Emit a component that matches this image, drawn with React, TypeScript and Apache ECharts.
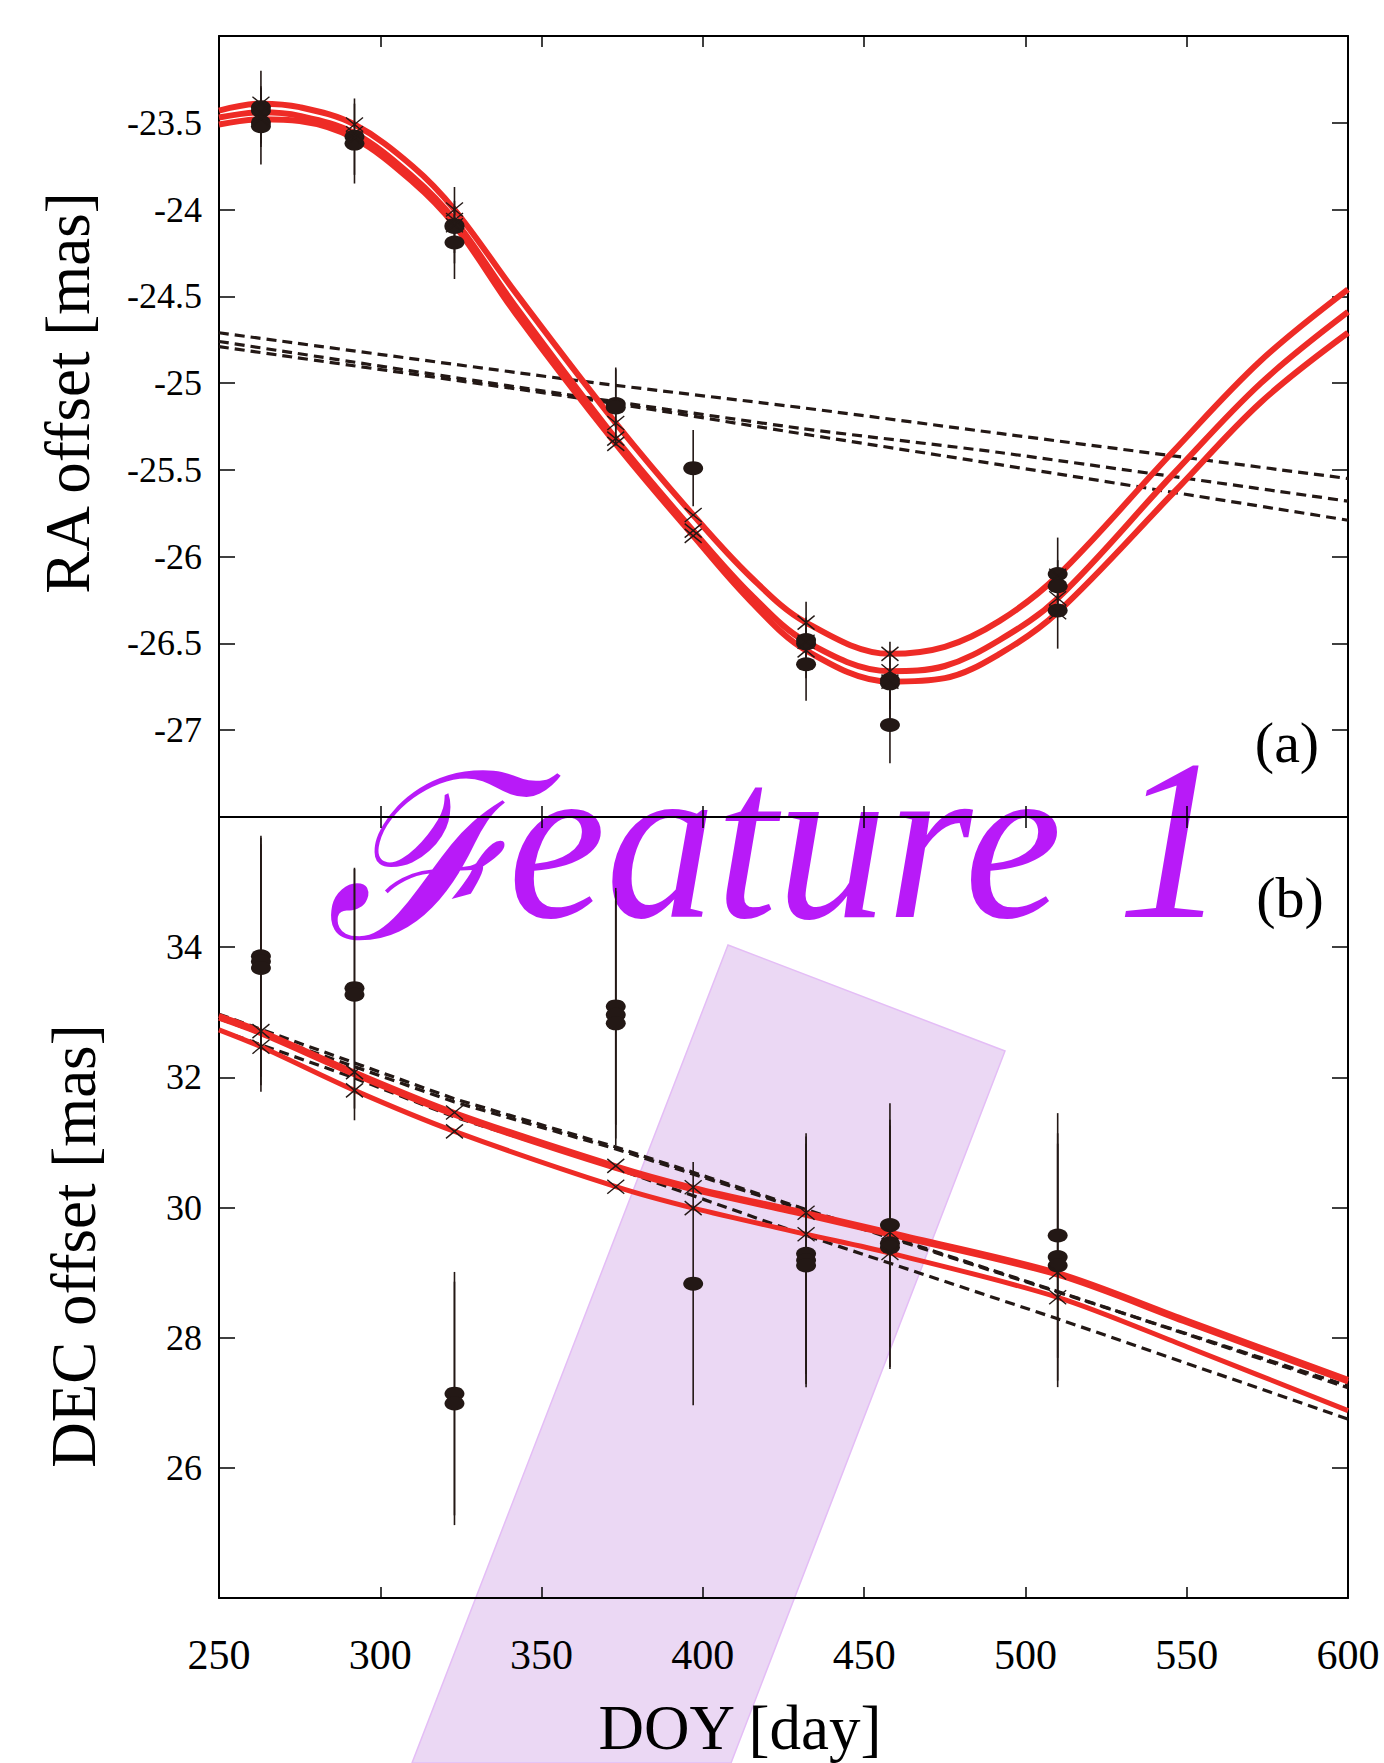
import React, { useEffect, useRef } from "react";
import * as echarts from "echarts";

// ---------- axes ----------
const xMin = 250;
const xMax = 600;
const xStep = 50;
const raMin = -27.5;
const raMax = -23.0;
const raStep = 0.5;
const decMin = 24;
const decMax = 36;
const decStep = 2;

// ---------- panel (a): RA ----------
const raObsDay = [263, 263, 263, 263, 292, 292, 323, 323, 323, 373, 373, 397, 432, 432, 432, 458, 458, 458, 510, 510, 510];
const raObs = [-23.41, -23.43, -23.5, -23.52, -23.58, -23.62, -24.09, -24.1, -24.19, -25.12, -25.14, -25.49, -26.48, -26.5, -26.62, -26.71, -26.73, -26.97, -26.1, -26.17, -26.31];
const raErr = [0.21, 0.14, 0.14, 0.22, 0.22, 0.23, 0.22, 0.15, 0.21, 0.21, 0.22, 0.22, 0.22, 0.15, 0.21, 0.22, 0.15, 0.22, 0.21, 0.15, 0.22];

const raCurveDay = [250, 263, 275, 292, 310, 323, 342, 373, 397, 415, 432, 458, 475, 492, 510, 546, 573, 600];
const raFitUpper = [-23.43, -23.39, -23.41, -23.51, -23.75, -24.0, -24.48, -25.23, -25.76, -26.12, -26.38, -26.56, -26.52, -26.37, -26.11, -25.39, -24.87, -24.46];
const raFitMid = [-23.47, -23.44, -23.46, -23.56, -23.81, -24.06, -24.56, -25.32, -25.85, -26.22, -26.49, -26.66, -26.63, -26.48, -26.24, -25.52, -25.0, -24.59];
const raFitLower = [-23.51, -23.48, -23.49, -23.59, -23.84, -24.09, -24.6, -25.35, -25.88, -26.26, -26.54, -26.72, -26.7, -26.56, -26.32, -25.63, -25.11, -24.71];

const raPmDay = [250, 363, 430, 492, 600];
const raPm1 = [-24.71, -24.99, -25.14, -25.29, -25.55];
const raPm2 = [-24.76, -25.08, -25.26, -25.4, -25.68];
const raPm3 = [-24.79, -25.09, -25.29, -25.47, -25.79];

// ---------- panel (b): DEC ----------
const decObsDay = [263, 263, 263, 292, 292, 323, 323, 373, 373, 373, 397, 432, 432, 432, 458, 458, 458, 510, 510, 510];
const decObs = [33.86, 33.78, 33.68, 33.37, 33.27, 27.14, 26.99, 33.09, 32.96, 32.83, 28.83, 29.29, 29.19, 29.11, 29.73, 29.45, 29.39, 29.57, 29.24, 29.11];
const decErr = [1.85, 1.9, 1.9, 1.85, 1.93, 1.87, 1.87, 1.82, 1.9, 1.88, 1.87, 1.85, 1.9, 1.87, 1.87, 1.9, 1.87, 1.88, 1.9, 1.87];

const decCurveDay = [250, 263, 292, 323, 373, 397, 432, 458, 510, 550, 600];
const decFitUpper = [32.95, 32.71, 32.08, 31.46, 30.64, 30.31, 29.92, 29.62, 29.0, 28.27, 27.36];
const decFitMid = [32.91, 32.67, 32.04, 31.42, 30.6, 30.27, 29.88, 29.58, 28.96, 28.23, 27.32];
const decFitLower = [32.73, 32.47, 31.8, 31.17, 30.32, 29.99, 29.59, 29.3, 28.62, 27.86, 26.88];

const decPmDayA = [250, 323, 373, 432, 510, 558, 600];
const decPmA = [32.97, 31.67, 30.93, 29.97, 28.71, 27.92, 27.23];
const decPmDayB = [250, 323, 373, 432, 510, 600];
const decPmB = [32.9, 31.62, 30.9, 29.95, 28.7, 27.26];
const decPmDayC = [250, 292, 323, 373, 432, 510, 600];
const decPmC = [32.73, 31.99, 31.39, 30.6, 29.57, 28.29, 26.75];

const epochs = [263, 292, 323, 373, 397, 432, 458, 510];

// ---------- styles ----------
const FONT = '"Liberation Serif", "Times New Roman", serif';
const RED = "#ee2b26";
const INK = "#231815";

const zip = (xs: number[], ys: number[]) => xs.map((x, i) => [x, ys[i]]);
const zip3 = (xs: number[], ys: number[], es: number[]) => xs.map((x, i) => [x, ys[i], es[i]]);
const atEpochs = (days: number[], vals: number[]) =>
  epochs.filter((d) => days.indexOf(d) >= 0).map((d) => [d, vals[days.indexOf(d)]]);

function errRender(params: any, api: any) {
  const x = api.value(0);
  const v = api.value(1);
  const e = api.value(2);
  const lo = api.coord([x, v - e]);
  const hi = api.coord([x, v + e]);
  return {
    type: "line",
    shape: { x1: lo[0], y1: lo[1], x2: hi[0], y2: hi[1] },
    style: { stroke: INK, lineWidth: 1.6 },
  };
}

function crossRender(params: any, api: any) {
  const p = api.coord([api.value(0), api.value(1)]);
  const sx = 8.5;
  const sy = 7;
  const st = { stroke: INK, lineWidth: 1.4 };
  return {
    type: "group",
    children: [
      { type: "line", shape: { x1: p[0] - sx, y1: p[1] - sy, x2: p[0] + sx, y2: p[1] + sy }, style: st },
      { type: "line", shape: { x1: p[0] - sx, y1: p[1] + sy, x2: p[0] + sx, y2: p[1] - sy }, style: st },
    ],
  };
}

function xAxisDef(grid: number, position: string, labels: boolean) {
  return {
    type: "value",
    gridIndex: grid,
    position,
    min: xMin,
    max: xMax,
    interval: xStep,
    axisLine: { show: true, onZero: false, lineStyle: { color: "#000", width: 2 } },
    axisTick: { show: true, inside: true, length: 11, lineStyle: { color: "#000", width: 1.5 } },
    axisLabel: { show: labels, margin: 36, color: "#000", fontFamily: FONT, fontSize: 42 },
    splitLine: { show: false },
  };
}

function yAxisDef(grid: number, position: string, labels: boolean, min: number, max: number, step: number) {
  return {
    type: "value",
    gridIndex: grid,
    position,
    min,
    max,
    interval: step,
    axisLine: { show: true, onZero: false, lineStyle: { color: "#000", width: 2 } },
    axisTick: { show: true, inside: true, length: 16, lineStyle: { color: "#000", width: 1.5 } },
    axisLabel: {
      show: labels,
      margin: 17,
      color: "#000",
      fontFamily: FONT,
      fontSize: 36,
      showMinLabel: false,
      showMaxLabel: false,
    },
    splitLine: { show: false },
  };
}

function lineSeries(xi: number, yi: number, data: number[][], color: string, width: number, dashed: boolean, smooth: number, z: number) {
  return {
    type: "line",
    xAxisIndex: xi,
    yAxisIndex: yi,
    data,
    showSymbol: false,
    symbol: "none",
    smooth,
    silent: true,
    z,
    lineStyle: { color, width, type: dashed ? [10, 6] : "solid", cap: "butt" },
  };
}

export default function App() {
  const ref = useRef<HTMLDivElement>(null);

  useEffect(() => {
    if (!ref.current) return;
    const chart = echarts.init(ref.current, null, { renderer: "svg" });

    const option: any = {
      animation: false,
      backgroundColor: "#ffffff",
      grid: [
        { left: 219, top: 36, width: 1129, height: 781 },
        { left: 219, top: 817, width: 1129, height: 781 },
      ],
      xAxis: [
        xAxisDef(0, "bottom", false),
        xAxisDef(0, "top", false),
        xAxisDef(1, "bottom", true),
        xAxisDef(1, "top", false),
      ],
      yAxis: [
        yAxisDef(0, "left", true, raMin, raMax, raStep),
        yAxisDef(0, "right", false, raMin, raMax, raStep),
        yAxisDef(1, "left", true, decMin, decMax, decStep),
        yAxisDef(1, "right", false, decMin, decMax, decStep),
      ],
      graphic: [
        {
          type: "polygon",
          z: -10,
          silent: true,
          shape: { points: [[728, 945], [1005, 1051], [731, 1763], [412, 1763]] },
          style: { fill: "#ebd8f4", stroke: "#e4bdf6", lineWidth: 1.5 },
        },
        {
          type: "text",
          z: -5,
          silent: true,
          x: 420,
          y: 860,
          style: {
            text: "\u2131",
            fill: "#b81af8",
            font: `italic 230px ${FONT}`,
            align: "center",
            verticalAlign: "middle",
          },
        },
        {
          type: "text",
          z: -5,
          silent: true,
          x: 508,
          y: 840,
          scaleX: 0.965,
          style: {
            text: "eature 1",
            fill: "#b81af8",
            font: `italic 228px ${FONT}`,
            align: "left",
            verticalAlign: "middle",
          },
        },
        {
          type: "text",
          silent: true,
          x: 68,
          y: 393,
          rotation: Math.PI / 2,
          style: { text: "RA offset [mas]", fill: "#000", font: `63px ${FONT}`, align: "center", verticalAlign: "middle" },
        },
        {
          type: "text",
          silent: true,
          x: 74,
          y: 1246,
          rotation: Math.PI / 2,
          style: { text: "DEC offset [mas]", fill: "#000", font: `63px ${FONT}`, align: "center", verticalAlign: "middle" },
        },
        {
          type: "text",
          silent: true,
          x: 740,
          y: 1728,
          style: { text: "DOY [day]", fill: "#000", font: `63px ${FONT}`, align: "center", verticalAlign: "middle" },
        },
        {
          type: "text",
          silent: true,
          x: 1287,
          y: 742,
          style: { text: "(a)", fill: "#000", font: `58px ${FONT}`, align: "center", verticalAlign: "middle" },
        },
        {
          type: "text",
          silent: true,
          x: 1290,
          y: 897,
          style: { text: "(b)", fill: "#000", font: `58px ${FONT}`, align: "center", verticalAlign: "middle" },
        },
      ],
      series: [
        // panel a
        lineSeries(0, 0, zip(raPmDay, raPm1), INK, 3.2, true, 0.2, 3),
        lineSeries(0, 0, zip(raPmDay, raPm2), INK, 3.2, true, 0.2, 3),
        lineSeries(0, 0, zip(raPmDay, raPm3), INK, 3.2, true, 0.2, 3),
        lineSeries(0, 0, zip(raCurveDay, raFitUpper), RED, 6, false, 0.35, 4),
        lineSeries(0, 0, zip(raCurveDay, raFitMid), RED, 6, false, 0.35, 4),
        lineSeries(0, 0, zip(raCurveDay, raFitLower), RED, 6, false, 0.35, 4),
        {
          type: "custom",
          xAxisIndex: 0,
          yAxisIndex: 0,
          renderItem: errRender,
          data: zip3(raObsDay, raObs, raErr),
          encode: { x: 0, y: 1 },
          silent: true,
          z: 5,
        },
        {
          type: "scatter",
          xAxisIndex: 0,
          yAxisIndex: 0,
          data: zip(raObsDay, raObs),
          symbol: "circle",
          symbolSize: [20, 14],
          itemStyle: { color: INK, opacity: 1 },
          silent: true,
          z: 6,
        },
        {
          type: "custom",
          xAxisIndex: 0,
          yAxisIndex: 0,
          renderItem: crossRender,
          data: [
            ...atEpochs(raCurveDay, raFitUpper),
            ...atEpochs(raCurveDay, raFitMid),
            ...atEpochs(raCurveDay, raFitLower),
          ],
          encode: { x: 0, y: 1 },
          silent: true,
          z: 7,
        },
        // panel b
        lineSeries(2, 2, zip(decPmDayA, decPmA), INK, 3.2, true, 0, 3),
        lineSeries(2, 2, zip(decPmDayB, decPmB), INK, 3.2, true, 0, 3),
        lineSeries(2, 2, zip(decPmDayC, decPmC), INK, 3.2, true, 0, 3),
        lineSeries(2, 2, zip(decCurveDay, decFitUpper), RED, 5, false, 0.3, 4),
        lineSeries(2, 2, zip(decCurveDay, decFitMid), RED, 5, false, 0.3, 4),
        lineSeries(2, 2, zip(decCurveDay, decFitLower), RED, 5, false, 0.3, 4),
        {
          type: "custom",
          xAxisIndex: 2,
          yAxisIndex: 2,
          renderItem: errRender,
          data: zip3(decObsDay, decObs, decErr),
          encode: { x: 0, y: 1 },
          silent: true,
          z: 5,
        },
        {
          type: "scatter",
          xAxisIndex: 2,
          yAxisIndex: 2,
          data: zip(decObsDay, decObs),
          symbol: "circle",
          symbolSize: [20, 14],
          itemStyle: { color: INK, opacity: 1 },
          silent: true,
          z: 6,
        },
        {
          type: "custom",
          xAxisIndex: 2,
          yAxisIndex: 2,
          renderItem: crossRender,
          data: [...atEpochs(decCurveDay, decFitUpper), ...atEpochs(decCurveDay, decFitLower)],
          encode: { x: 0, y: 1 },
          silent: true,
          z: 7,
        },
      ],
    };

    chart.setOption(option);
    return () => chart.dispose();
  }, []);

  return (
    <div
      ref={ref}
      style={{ position: "fixed", left: 0, top: 0, width: 1384, height: 1763, background: "#fff" }}
    />
  );
}
